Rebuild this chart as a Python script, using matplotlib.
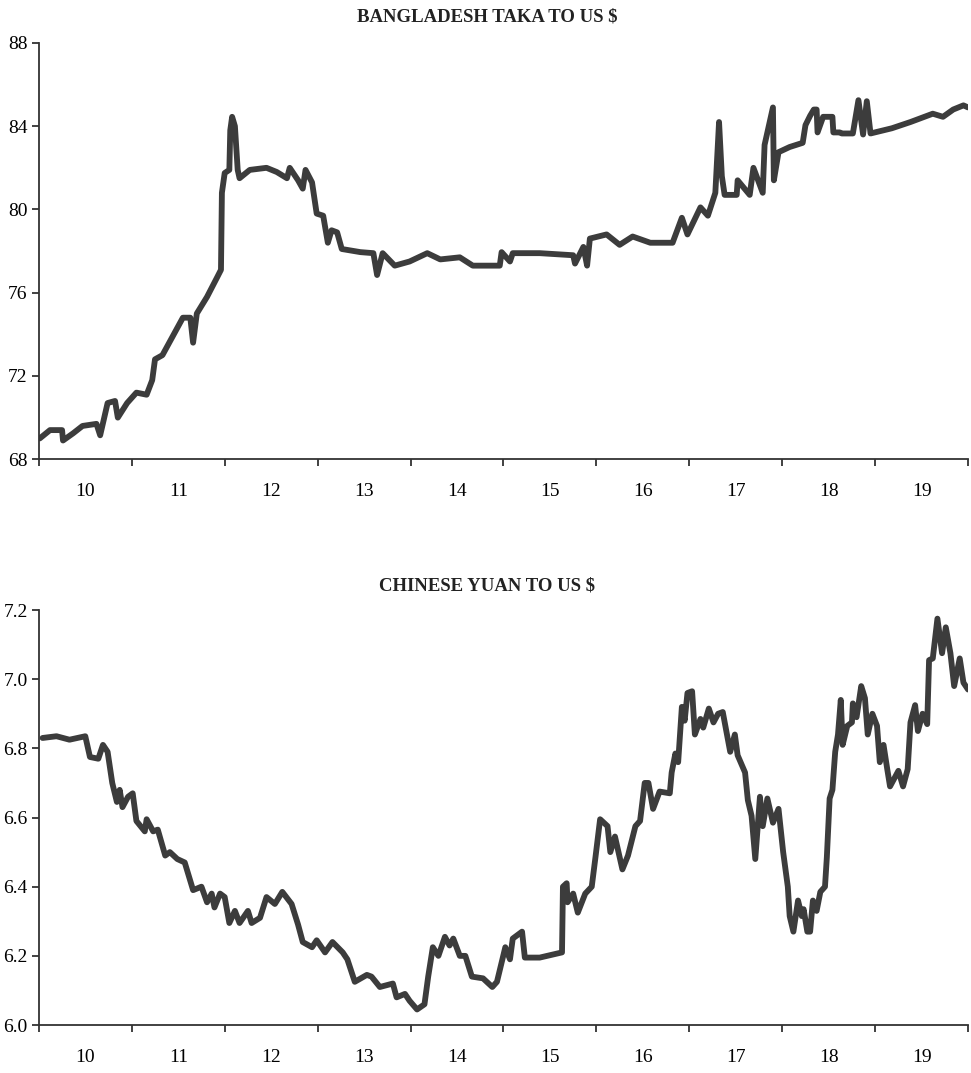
import matplotlib
matplotlib.use('Agg')
import matplotlib.pyplot as plt
from matplotlib.ticker import FixedLocator, FixedFormatter

# Taka per US $ (decimal years)
taka_t = [2010.01, 2010.12, 2010.25, 2010.26, 2010.37, 2010.47, 2010.62, 2010.66,
          2010.74, 2010.82, 2010.85, 2010.95, 2011.05, 2011.16, 2011.22, 2011.25,
          2011.33, 2011.44, 2011.55, 2011.63, 2011.66, 2011.70, 2011.81, 2011.92,
          2011.96, 2011.97, 2012.00, 2012.05, 2012.06, 2012.08, 2012.11, 2012.14,
          2012.16, 2012.27, 2012.45, 2012.56, 2012.67, 2012.70, 2012.79, 2012.84,
          2012.87, 2012.94, 2012.99, 2013.06, 2013.11, 2013.15, 2013.21, 2013.26,
          2013.46, 2013.60, 2013.64, 2013.70, 2013.83, 2013.99, 2014.18, 2014.32,
          2014.53, 2014.67, 2014.96, 2014.98, 2015.07, 2015.10, 2015.39, 2015.75,
          2015.77, 2015.86, 2015.90, 2015.93, 2016.11, 2016.25, 2016.39, 2016.58,
          2016.82, 2016.92, 2016.98, 2017.12, 2017.20, 2017.28, 2017.32, 2017.35,
          2017.38, 2017.51, 2017.52, 2017.65, 2017.69, 2017.79, 2017.81, 2017.90,
          2017.91, 2017.96, 2018.08, 2018.22, 2018.25, 2018.30, 2018.34, 2018.37,
          2018.38, 2018.44, 2018.54, 2018.55, 2018.62, 2018.64, 2018.76, 2018.82,
          2018.87, 2018.91, 2018.95, 2019.18, 2019.38, 2019.62, 2019.73, 2019.84,
          2019.95, 2020.00]
taka = [69.0, 69.4, 69.4, 68.9, 69.25, 69.6, 69.7, 69.15,
        70.7, 70.8, 70.0, 70.7, 71.2, 71.1, 71.8, 72.8,
        73.0, 73.9, 74.8, 74.8, 73.6, 75.0, 75.8, 76.75,
        77.1, 80.8, 81.75, 81.9, 83.8, 84.45, 84.0, 81.9,
        81.5, 81.9, 82.0, 81.8, 81.5, 82.0, 81.4, 81.0,
        81.9, 81.3, 79.8, 79.7, 78.4, 79.0, 78.9, 78.1,
        77.95, 77.9, 76.85, 77.9, 77.3, 77.5, 77.9, 77.6,
        77.7, 77.3, 77.3, 77.95, 77.5, 77.9, 77.9, 77.8,
        77.4, 78.2, 77.3, 78.6, 78.8, 78.3, 78.7, 78.4,
        78.4, 79.6, 78.8, 80.1, 79.7, 80.8, 84.2, 81.6,
        80.7, 80.7, 81.4, 80.7, 82.0, 80.8, 83.1, 84.9,
        81.4, 82.75, 83.0, 83.2, 84.05, 84.5, 84.8, 84.8,
        83.7, 84.45, 84.45, 83.7, 83.7, 83.65, 83.65, 85.25,
        83.6, 85.2, 83.65, 83.9, 84.2, 84.6, 84.45, 84.8,
        85.0, 84.9]

# Yuan per US $
yuan_t = [2010.04, 2010.19, 2010.33, 2010.50, 2010.55, 2010.64, 2010.69, 2010.74,
          2010.79, 2010.84, 2010.87, 2010.90, 2010.96, 2011.01, 2011.05, 2011.14,
          2011.16, 2011.23, 2011.28, 2011.36, 2011.41, 2011.49, 2011.57, 2011.66,
          2011.75, 2011.81, 2011.86, 2011.89, 2011.95, 2012.00, 2012.05, 2012.11,
          2012.16, 2012.25, 2012.29, 2012.38, 2012.45, 2012.54, 2012.62, 2012.72,
          2012.79, 2012.84, 2012.94, 2012.99, 2013.08, 2013.16, 2013.27, 2013.32,
          2013.40, 2013.53, 2013.58, 2013.67, 2013.81, 2013.85, 2013.94, 2013.99,
          2014.07, 2014.15, 2014.19, 2014.24, 2014.30, 2014.37, 2014.42, 2014.46,
          2014.53, 2014.59, 2014.66, 2014.78, 2014.88, 2014.93, 2014.98, 2015.02,
          2015.07, 2015.10, 2015.20, 2015.23, 2015.39, 2015.63, 2015.64, 2015.68,
          2015.69, 2015.75, 2015.80, 2015.88, 2015.95, 2015.99, 2016.04, 2016.12,
          2016.15, 2016.20, 2016.28, 2016.34, 2016.42, 2016.47, 2016.52, 2016.56,
          2016.61, 2016.68, 2016.79, 2016.81, 2016.85, 2016.88, 2016.92, 2016.95,
          2016.98, 2017.03, 2017.06, 2017.12, 2017.15, 2017.21, 2017.26, 2017.31,
          2017.36, 2017.44, 2017.49, 2017.52, 2017.60, 2017.63, 2017.67, 2017.71,
          2017.76, 2017.79, 2017.84, 2017.90, 2017.96, 2018.01, 2018.06, 2018.08,
          2018.12, 2018.17, 2018.21, 2018.23, 2018.27, 2018.30, 2018.33, 2018.37,
          2018.41, 2018.46, 2018.48, 2018.51, 2018.54, 2018.57, 2018.60, 2018.63,
          2018.65, 2018.70, 2018.75, 2018.76, 2018.80, 2018.85, 2018.89, 2018.92,
          2018.97, 2019.02, 2019.05, 2019.09, 2019.13, 2019.16, 2019.25, 2019.30,
          2019.35, 2019.38, 2019.43, 2019.46, 2019.51, 2019.56, 2019.58, 2019.62,
          2019.67, 2019.72, 2019.76, 2019.81, 2019.85, 2019.91, 2019.95, 2020.00]
yuan = [6.83, 6.835, 6.825, 6.835, 6.775, 6.77, 6.81, 6.79,
        6.70, 6.645, 6.68, 6.63, 6.66, 6.67, 6.59, 6.56,
        6.595, 6.56, 6.565, 6.49, 6.50, 6.48, 6.47, 6.39,
        6.40, 6.355, 6.38, 6.34, 6.38, 6.37, 6.295, 6.33,
        6.295, 6.33, 6.295, 6.31, 6.37, 6.35, 6.385, 6.35,
        6.29, 6.24, 6.225, 6.245, 6.21, 6.24, 6.21, 6.19,
        6.125, 6.145, 6.14, 6.11, 6.12, 6.08, 6.09, 6.07,
        6.045, 6.06, 6.14, 6.225, 6.20, 6.255, 6.23, 6.25,
        6.20, 6.20, 6.14, 6.135, 6.11, 6.125, 6.18, 6.225,
        6.19, 6.25, 6.27, 6.195, 6.195, 6.21, 6.40, 6.41,
        6.355, 6.38, 6.325, 6.38, 6.40, 6.485, 6.595, 6.575,
        6.50, 6.545, 6.45, 6.49, 6.575, 6.59, 6.70, 6.70,
        6.625, 6.675, 6.67, 6.73, 6.785, 6.76, 6.92, 6.88,
        6.96, 6.965, 6.84, 6.885, 6.86, 6.915, 6.875, 6.90,
        6.905, 6.79, 6.84, 6.78, 6.73, 6.65, 6.605, 6.48,
        6.66, 6.575, 6.655, 6.585, 6.625, 6.50, 6.40, 6.315,
        6.27, 6.36, 6.315, 6.335, 6.27, 6.27, 6.36, 6.33,
        6.385, 6.40, 6.485, 6.655, 6.68, 6.79, 6.84, 6.94,
        6.81, 6.865, 6.875, 6.93, 6.89, 6.98, 6.945, 6.84,
        6.90, 6.865, 6.76, 6.81, 6.74, 6.69, 6.735, 6.69,
        6.74, 6.875, 6.925, 6.85, 6.90, 6.87, 7.055, 7.06,
        7.175, 7.075, 7.15, 7.075, 6.98, 7.06, 6.99, 6.97]

years = list(range(2010, 2021))
year_labels = ['10', '11', '12', '13', '14', '15', '16', '17', '18', '19']
taka_yticks = [68, 72, 76, 80, 84, 88]
yuan_yticks = [6.0, 6.2, 6.4, 6.6, 6.8, 7.0, 7.2]

plt.rcParams['font.family'] = ['Liberation Serif', 'DejaVu Serif']
line_col = '#3c3c3c'
axis_col = '#333333'

fig = plt.figure(figsize=(9.71, 10.73), dpi=100)
ax1 = fig.add_axes([0.040, 0.572, 0.957, 0.388])
ax2 = fig.add_axes([0.040, 0.0447, 0.957, 0.3868])


def style_axis(ax, yticks, fmt):
    ax.set_xlim(2010, 2020)
    ax.set_ylim(yticks[0], yticks[-1])
    for s in ['top', 'right']:
        ax.spines[s].set_visible(False)
    for s in ['left', 'bottom']:
        ax.spines[s].set_linewidth(1.3)
        ax.spines[s].set_color(axis_col)
    ax.xaxis.set_major_locator(FixedLocator(years))
    ax.xaxis.set_major_formatter(FixedFormatter([''] * len(years)))
    ax.xaxis.set_minor_locator(FixedLocator([y + 0.5 for y in years[:-1]]))
    ax.xaxis.set_minor_formatter(FixedFormatter(year_labels))
    ax.tick_params(axis='x', which='major', length=5, width=1.3, color=axis_col)
    ax.tick_params(axis='x', which='minor', length=0, pad=17, labelsize=14)
    ax.set_yticks(yticks)
    ax.set_yticklabels([fmt.format(v) for v in yticks])
    ax.tick_params(axis='y', length=5, width=1.3, color=axis_col, labelsize=14, pad=3)


ax1.plot(taka_t, taka, color=line_col, lw=4.2, solid_joinstyle='round', solid_capstyle='round')
style_axis(ax1, taka_yticks, '{:.0f}')
fig.text(0.502, 0.984, 'BANGLADESH TAKA TO US $', ha='center', va='center',
         fontsize=13.5, fontweight='bold', color='#222222')

ax2.plot(yuan_t, yuan, color=line_col, lw=4.2, solid_joinstyle='round', solid_capstyle='round')
style_axis(ax2, yuan_yticks, '{:.1f}')
fig.text(0.502, 0.454, 'CHINESE YUAN TO US $', ha='center', va='center',
         fontsize=13.5, fontweight='bold', color='#222222')

fig.savefig('out.png', dpi=100)
